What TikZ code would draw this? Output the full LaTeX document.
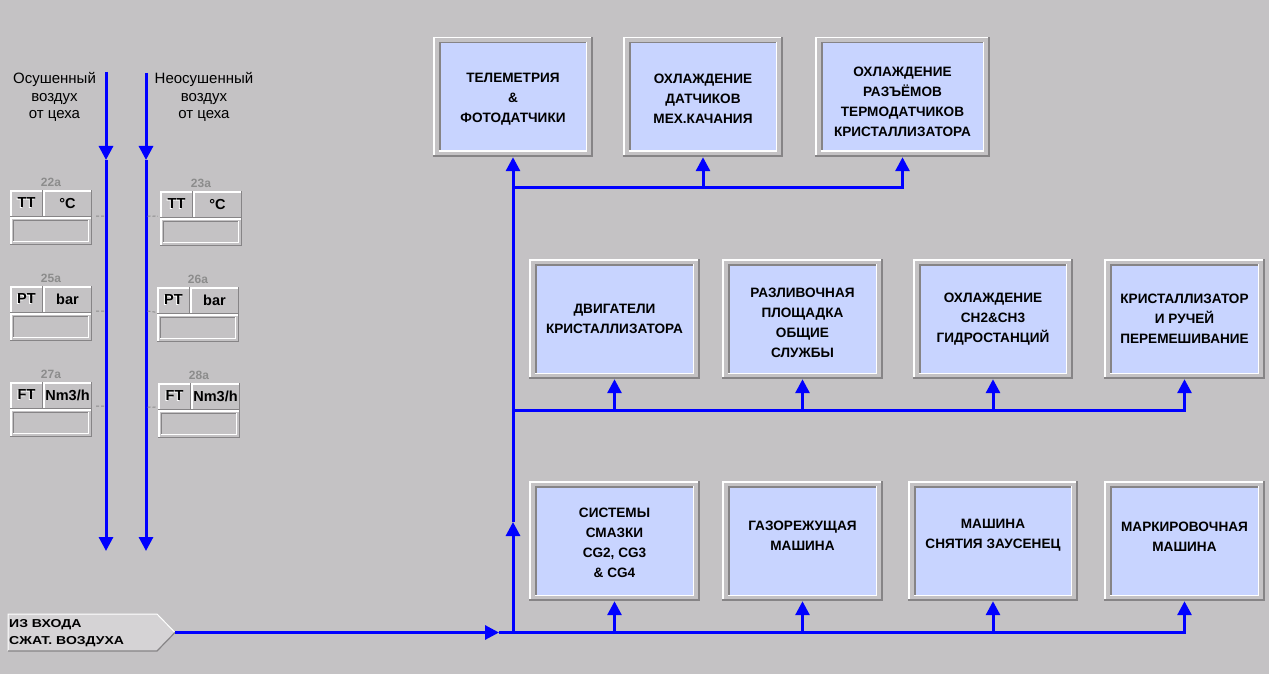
\documentclass[tikz,border=0pt]{standalone}
\usepackage{fontspec}
\setmainfont{Liberation Sans}
\newfontfamily\widesans[FakeStretch=1.22]{Liberation Sans}
\usetikzlibrary{arrows.meta}

\definecolor{bggrey}{RGB}{196,194,196}
\definecolor{tablight}{RGB}{213,211,213}
\definecolor{panelblue}{RGB}{200,212,255}
\definecolor{edgegrey}{RGB}{134,132,134}
\definecolor{tagtext}{RGB}{140,140,140}
\definecolor{pipeblue}{RGB}{0,0,255}

\newcommand\boxfont{\fontsize{13.6}{20}\selectfont\bfseries}
\newcommand\cellfont{\fontsize{14.5}{16}\selectfont\bfseries}
\newcommand\tagfont{\fontsize{12}{14}\selectfont\bfseries}
\newcommand\notefont{\fontsize{15}{17.5}\selectfont}
\newcommand\inletfont{\widesans\fontsize{11.5}{17}\selectfont\bfseries}
\newcommand\embossed[1]{\makebox[0pt][l]{\kern-1pt\raisebox{-1pt}{\color{white}#1}}#1}
% invisible struts that move a caption block down (top line) or up (last line)
\newcommand\headroom[1]{\rule{0pt}{#1}}
\newcommand\footroom[1]{\rule[-#1]{0pt}{0pt}}

\tikzset{
  pipe/.style={draw=pipeblue, line width=3pt},
  flow/.style={pipe, -{Triangle[length=14pt,width=14pt]}},
  tapline/.style={draw=tagtext, line width=1pt, dash pattern=on 3pt off 2pt},
  % raised grey frame around a sunken light-blue panel
  unitbox/.style={rectangle, inner sep=0pt, fill=bggrey, align=center,
    font=\boxfont, minimum height=120pt,
    path picture={
      \fill[panelblue] ([shift={(6pt,5pt)}]path picture bounding box.south west)
        rectangle ([shift={(-6pt,-5pt)}]path picture bounding box.north east);
      \draw[edgegrey, line width=1.5pt] ([shift={(6.75pt,5pt)}]path picture bounding box.south west)
        |- ([shift={(-6pt,-5.75pt)}]path picture bounding box.north east);
      \draw[white, line width=1.5pt] ([shift={(6pt,5.75pt)}]path picture bounding box.south west)
        -| ([shift={(-6.75pt,-5pt)}]path picture bounding box.north east);
      \draw[white, line width=1.5pt] ([shift={(0.75pt,0pt)}]path picture bounding box.south west)
        |- ([shift={(0pt,-0.75pt)}]path picture bounding box.north east);
      \draw[edgegrey, line width=2pt] ([shift={(0pt,1pt)}]path picture bounding box.south west)
        -| ([shift={(-1pt,0pt)}]path picture bounding box.north east);
    }},
  % raised cell of an instrument faceplate
  cell/.style={rectangle, inner sep=0pt, fill=bggrey, font=\cellfont,
    path picture={
      \draw[white, line width=1.5pt] ([shift={(0.75pt,0pt)}]path picture bounding box.south west)
        |- ([shift={(0pt,-0.75pt)}]path picture bounding box.north east);
      \draw[edgegrey, line width=1.5pt] ([shift={(0pt,0.75pt)}]path picture bounding box.south west)
        -| ([shift={(-0.75pt,0pt)}]path picture bounding box.north east);
    }},
  % value field: raised frame with a sunken inset
  well/.style={cell,
    path picture={
      \draw[white, line width=1.5pt] ([shift={(0.75pt,0pt)}]path picture bounding box.south west)
        |- ([shift={(0pt,-0.75pt)}]path picture bounding box.north east);
      \draw[edgegrey, line width=1.5pt] ([shift={(0pt,0.75pt)}]path picture bounding box.south west)
        -| ([shift={(-0.75pt,0pt)}]path picture bounding box.north east);
      \draw[edgegrey, line width=1.2pt] ([shift={(3.6pt,3pt)}]path picture bounding box.south west)
        |- ([shift={(-3pt,-3.6pt)}]path picture bounding box.north east);
      \draw[white, line width=1.2pt] ([shift={(3pt,3.6pt)}]path picture bounding box.south west)
        -| ([shift={(-3.6pt,-3pt)}]path picture bounding box.north east);
    }},
  tagnum/.style={font=\tagfont, text=tagtext, inner sep=0pt},
  note/.style={font=\notefont, align=center, inner sep=0pt},
}

% instrument faceplate: id, left x, top y, tag, kind, unit
\newcommand\gauge[6]{%
  \node[tagnum] (t#1) at (#2+41,#3-8) {#4};
  \node[cell, minimum width=33pt, minimum height=27pt] (k#1) at (#2+16.5,#3+13.5) {\embossed{#5}};
  \node[cell, minimum width=49pt, minimum height=27pt] (u#1) at (#2+57.5,#3+13.5) {#6};
  \node[well, minimum width=82pt, minimum height=28pt] (v#1) at (#2+41,#3+41) {};
}

\begin{document}
\begin{tikzpicture}[x=1pt,y=-1pt]
\useasboundingbox[fill=bggrey] (0,0) rectangle (1269,674);

% ---- consumer units ----
\node[unitbox, minimum width=160pt] (tel)    at (513,97)   {\headroom{13pt}ТЕЛЕМЕТРИЯ\\\&\\ФОТОДАТЧИКИ};
\node[unitbox, minimum width=160pt] (cool1)  at (703,97)   {\headroom{13pt}ОХЛАЖДЕНИЕ\\ДАТЧИКОВ\\МЕХ.КАЧАНИЯ};
\node[unitbox, minimum width=175pt] (cool2)  at (902.5,97) {\headroom{20pt}ОХЛАЖДЕНИЕ\\РАЗЪЁМОВ\\ТЕРМОДАТЧИКОВ\\КРИСТАЛЛИЗАТОРА};

\node[unitbox, minimum width=171pt] (drive)  at (614.5,319) {ДВИГАТЕЛИ\\КРИСТАЛЛИЗАТОРА};
\node[unitbox, minimum width=161pt] (cast)   at (802.5,319) {\headroom{18pt}РАЗЛИВОЧНАЯ\\ПЛОЩАДКА\\ОБЩИЕ\\СЛУЖБЫ};
\node[unitbox, minimum width=160pt] (hydro)  at (993,319)   {ОХЛАЖДЕНИЕ\\CH2\&CH3\\ГИДРОСТАНЦИЙ};
\node[unitbox, minimum width=161pt] (mould)  at (1184.5,319){КРИСТАЛЛИЗАТОР\\И РУЧЕЙ\\ПЕРЕМЕШИВАНИЕ};

\node[unitbox, minimum width=171pt] (lube)   at (614.5,541) {\headroom{13pt}СИСТЕМЫ\\СМАЗКИ\\CG2, CG3\\\& CG4};
\node[unitbox, minimum width=161pt] (torch)  at (802.5,541) {ГАЗОРЕЖУЩАЯ\\МАШИНА\footroom{10pt}};
\node[unitbox, minimum width=170pt] (deburr) at (993,541)   {МАШИНА\\СНЯТИЯ ЗАУСЕНЕЦ\footroom{14pt}};
\node[unitbox, minimum width=161pt] (mark)   at (1184.5,541){МАРКИРОВОЧНАЯ\\МАШИНА\footroom{8pt}};

% ---- shop air supply lines ----
\node[note] (dry)   at (54.5,97) {Осушенный\\воздух\\от цеха};
\node[note] (undry) at (204,97)  {Неосушенный\\воздух\\от цеха};

\coordinate (dryTop) at (106,72);
\coordinate (dryMid) at (106,160);
\coordinate (dryEnd) at (106,551);
\coordinate (wetTop) at (146,73);
\coordinate (wetMid) at (146,160);
\coordinate (wetEnd) at (146,551);
\draw[flow] (dryTop) -- (dryMid);
\draw[flow] (dryMid) -- (dryEnd);
\draw[flow] (wetTop) -- (wetMid);
\draw[flow] (wetMid) -- (wetEnd);

% ---- instruments ----
\gauge{22}{10}{190}{22a}{TT}{°C}
\gauge{25}{10}{286}{25a}{PT}{bar}
\gauge{27}{10}{382}{27a}{FT}{Nm3/h}
\gauge{23}{160}{191}{23a}{TT}{°C}
\gauge{26}{157}{287}{26a}{PT}{bar}
\gauge{28}{158}{383}{28a}{FT}{Nm3/h}

\coordinate (tap22) at (104.5,216);
\coordinate (tap25) at (104.5,311);
\coordinate (tap27) at (104.5,406);
\coordinate (tap23) at (147.5,216);
\coordinate (tap26) at (147.5,311);
\coordinate (tap28) at (147.5,407);
\draw[tapline] ([xshift=4pt,yshift=1pt]u22.south east) -- (tap22);
\draw[tapline] ([xshift=4pt,yshift=2pt]u25.south east) -- (tap25);
\draw[tapline] ([xshift=4pt,yshift=3pt]u27.south east) -- (tap27);
\draw[tapline] (tap23) -- ([xshift=-2pt,yshift=2pt]k23.south west);
\draw[tapline] (tap26) -- ([xshift=-1pt,yshift=2pt]k26.south west);
\draw[tapline] (tap28) -- ([xshift=-1pt,yshift=3pt]k28.south west);

% ---- compressed air inlet ----
\coordinate (inNW)  at (8,614);
\coordinate (inNE)  at (157,614);
\coordinate (inTip) at (175,632.5);
\coordinate (inSE)  at (157,651);
\coordinate (inSW)  at (8,651);
\fill[tablight] (inNW) -- (inNE) -- (inTip) -- (inSE) -- (inSW) -- cycle;
\draw[white, line width=1pt] (inSW) -- (inNW) -- (inNE) -- (inTip);
\draw[edgegrey, line width=1.2pt] (inTip) -- (inSE) -- (inSW);
\node[font=\inletfont, align=left, anchor=west, inner sep=0pt] (inlet) at (9,633)
  {ИЗ ВХОДА\\СЖАТ. ВОЗДУХА};

% ---- distribution ----
\coordinate (feedArrow) at (499,632.5);
\coordinate (feed)      at (513,632.5);
\coordinate (riserMid)  at (513,522);
\coordinate (tee1)      at (513,187.5);
\coordinate (tee2)      at (513,410);

\draw[flow] (inTip) -- (feedArrow);
\draw[pipe] (feedArrow) -- (feed);
\draw[flow] (feed) -- (riserMid);
\draw[flow] (riserMid) -- (tel.south);

\draw[flow] (tee1) -| (cool2.south);
\draw[flow] (cool1.south |- tee1) -- (cool1.south);

\draw[flow] (tee2) -| (mould.south);
\draw[flow] (drive.south |- tee2) -- (drive.south);
\draw[flow] (cast.south |- tee2) -- (cast.south);
\draw[flow] (hydro.south |- tee2) -- (hydro.south);

\draw[flow] (feed) -| (mark.south);
\draw[flow] (lube.south |- feed) -- (lube.south);
\draw[flow] (torch.south |- feed) -- (torch.south);
\draw[flow] (deburr.south |- feed) -- (deburr.south);
\end{tikzpicture}
\end{document}
